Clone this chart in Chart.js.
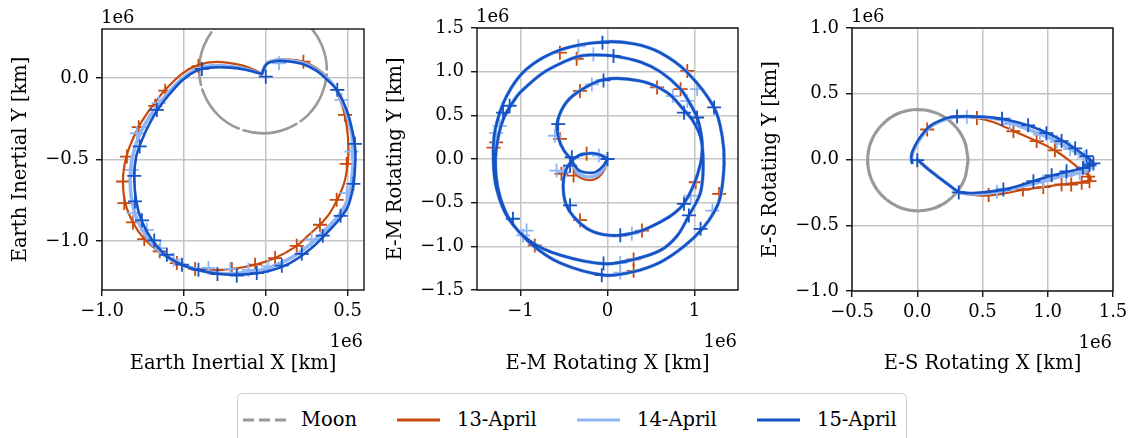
<!DOCTYPE html>
<html><head><meta charset="utf-8">
<script src="https://cdn.jsdelivr.net/npm/chart.js@4.4.1/dist/chart.umd.min.js"></script>
<style>
html,body{margin:0;padding:0;background:#fff;width:1134px;height:438px;overflow:hidden;position:relative;font-family:'DejaVu Serif',serif;}
canvas{position:absolute;top:0;}
#legendBox{position:absolute;left:237px;top:393px;width:670px;height:70px;border:1px solid #cfcfcf;border-radius:5px;box-sizing:border-box;}
.lg{position:absolute;top:408px;height:24px;line-height:24px;font-size:19.5px;color:#000;white-space:nowrap;}
.sw{position:absolute;top:414px;}
</style></head><body>
<canvas id="c1" width="378" height="385" style="left:0px"></canvas>
<canvas id="c2" width="378" height="385" style="left:378px"></canvas>
<canvas id="c3" width="378" height="385" style="left:756px"></canvas>
<div id="legendBox"></div>
<svg class="sw" style="left:243px" width="44" height="12"><line x1="0" y1="6" x2="43" y2="6" stroke="#999999" stroke-width="2.8" stroke-dasharray="11,5"/></svg>
<div class="lg" style="left:301px">Moon</div>
<svg class="sw" style="left:397px" width="44" height="12"><line x1="0" y1="6" x2="43" y2="6" stroke="#c8490c" stroke-width="2.8"/></svg>
<div class="lg" style="left:457px">13-April</div>
<svg class="sw" style="left:577px" width="44" height="12"><line x1="0" y1="6" x2="43" y2="6" stroke="#8fb5f5" stroke-width="2.8"/></svg>
<div class="lg" style="left:637px">14-April</div>
<svg class="sw" style="left:757px" width="44" height="12"><line x1="0" y1="6" x2="43" y2="6" stroke="#1552c4" stroke-width="2.8"/></svg>
<div class="lg" style="left:817px">15-April</div>
<script>
// ---------------- DATA (units of 1e6 km) ----------------
// Panel 1: Earth inertial frame
const inertialMoon = [[-0.017,0.44],[-0.166,0.410],[-0.293,0.326],[-0.377,0.199],[-0.407,0.05],[-0.377,-0.099],[-0.293,-0.226],[-0.166,-0.310],[-0.017,-0.34],[0.132,-0.310],[0.259,-0.226],[0.343,-0.099],[0.373,0.05],[0.343,0.199],[0.259,0.326],[0.132,0.410],[-0.017,0.44]];
const inertial13 = [[-0.024,0.024],[0.006,0.09],[0.07,0.112],[0.15,0.112],[0.23,0.1],[0.31,0.06],[0.38,0.0],[0.425,-0.065],[0.470,-0.18],[0.495,-0.30],[0.505,-0.42],[0.500,-0.53],[0.480,-0.64],[0.440,-0.74],[0.39,-0.83],[0.331,-0.900],[0.26,-0.965],[0.189,-1.029],[0.057,-1.104],[-0.065,-1.145],[-0.207,-1.171],[-0.33,-1.18],[-0.431,-1.171],[-0.543,-1.135],[-0.648,-1.069],[-0.746,-0.982],[-0.811,-0.886],[-0.858,-0.767],[-0.872,-0.635],[-0.862,-0.53],[-0.835,-0.43],[-0.776,-0.300],[-0.72,-0.21],[-0.675,-0.150],[-0.614,-0.073],[-0.512,0.025],[-0.411,0.080],[-0.30,0.098],[-0.157,0.08],[-0.07,0.05],[-0.024,0.024]];
const inertial14 = [[-0.024,0.024],[0.006,0.088],[0.068,0.108],[0.15,0.105],[0.23,0.09],[0.311,0.05],[0.382,-0.01],[0.432,-0.072],[0.485,-0.19],[0.52,-0.315],[0.535,-0.44],[0.532,-0.55],[0.52,-0.66],[0.49,-0.77],[0.44,-0.85],[0.36,-0.935],[0.27,-1.02],[0.16,-1.10],[0.03,-1.16],[-0.10,-1.19],[-0.23,-1.20],[-0.35,-1.19],[-0.45,-1.165],[-0.55,-1.125],[-0.64,-1.07],[-0.72,-0.985],[-0.78,-0.88],[-0.817,-0.76],[-0.828,-0.62],[-0.815,-0.49],[-0.78,-0.37],[-0.73,-0.27],[-0.67,-0.18],[-0.595,-0.09],[-0.51,-0.005],[-0.42,0.055],[-0.33,0.075],[-0.21,0.07],[-0.11,0.052],[-0.024,0.024]];
const inertial15 = [[-0.024,0.024],[0.006,0.086],[0.067,0.104],[0.148,0.100],[0.230,0.084],[0.311,0.043],[0.382,-0.018],[0.437,-0.078],[0.494,-0.196],[0.530,-0.329],[0.547,-0.441],[0.545,-0.55],[0.535,-0.66],[0.505,-0.78],[0.463,-0.849],[0.382,-0.941],[0.280,-1.043],[0.148,-1.135],[0.006,-1.186],[-0.157,-1.206],[-0.299,-1.200],[-0.421,-1.176],[-0.522,-1.141],[-0.614,-1.084],[-0.695,-0.992],[-0.756,-0.880],[-0.791,-0.757],[-0.803,-0.604],[-0.791,-0.482],[-0.756,-0.380],[-0.709,-0.278],[-0.654,-0.186],[-0.583,-0.094],[-0.502,-0.008],[-0.421,0.045],[-0.339,0.063],[-0.217,0.063],[-0.116,0.049],[-0.024,0.024]];
const inertial13Marks = [[-0.411,0.073],[-0.614,-0.078],[-0.675,-0.171],[-0.776,-0.302],[-0.848,-0.482],[-0.872,-0.635],[-0.864,-0.767],[-0.811,-0.886],[-0.742,-0.988],[-0.648,-1.063],[-0.543,-1.135],[-0.431,-1.171],[-0.207,-1.171],[-0.065,-1.145],[0.057,-1.104],[0.189,-1.029],[0.331,-0.900],[0.433,-0.747],[0.494,-0.527],[0.484,-0.227],[0.230,0.100]];
const inertial14Marks = [[0.081,0.09],[0.463,-0.135],[0.524,-0.451],[0.494,-0.706],[0.28,-0.99],[0.016,-1.155],[-0.106,-1.176],[-0.217,-1.171],[-0.35,-1.165],[-0.563,-1.114],[-0.644,-1.043],[-0.726,-0.931],[-0.807,-0.829],[-0.817,-0.563],[-0.787,-0.339],[-0.654,-0.155]];
const inertial15Marks = [[0.0,0.008],[0.437,-0.073],[0.545,-0.404],[0.535,-0.649],[0.457,-0.845],[0.348,-0.967],[0.220,-1.078],[0.098,-1.151],[-0.055,-1.196],[-0.177,-1.212],[-0.295,-1.202],[-0.411,-1.176],[-0.512,-1.145],[-0.604,-1.084],[-0.681,-0.996],[-0.756,-0.873],[-0.799,-0.757],[-0.803,-0.600],[-0.770,-0.420],[-0.665,-0.196],[-0.390,0.055]];
const inertialXTicks = [-1.0,-0.5,0.0,0.5];
const inertialYTicks = [-1.0,-0.5,0.0];

// Panel 2: Earth-Moon rotating frame
const emCommon = [[0,0],[-0.08,0.045],[-0.17,0.065],[-0.25,0.06],[-0.33,0.04],[-0.41,-0.02],[-0.48,-0.13],[-0.51,-0.30],[-0.48,-0.51],[-0.39,-0.66],[-0.23,-0.80],[-0.05,-0.865],[0.147,-0.874],[0.38,-0.825],[0.61,-0.72],[0.77,-0.62],[0.879,-0.51],[0.99,-0.30],[1.07,-0.05],[1.09,0.15],[1.07,0.32],[1.03,0.475],[0.94,0.65],[0.84,0.80],[0.62,0.99],[0.38,1.11],[0.07,1.18],[-0.2,1.19],[-0.35,1.17],[-0.55,1.09],[-0.735,0.99],[-0.92,0.84],[-1.04,0.72],[-1.20,0.45],[-1.28,0.1],[-1.28,-0.2],[-1.23,-0.45],[-1.12,-0.70],[-0.88,-0.97],[-0.547,-1.19],[-0.04,-1.33],[0.30,-1.29],[0.61,-1.18],[0.88,-1.0],[1.09,-0.80],[1.23,-0.60],[1.30,-0.42],[1.34,-0.05],[1.32,0.25],[1.225,0.59],[0.918,0.99],[0.6,1.22],[0.3,1.32],[-0.06,1.34],[-0.54,1.25],[-0.93,1.03],[-1.16,0.72],[-1.29,0.34],[-1.313,0.0],[-1.275,-0.34],[-1.14,-0.68],[-0.89,-0.94],[-0.547,-1.10],[-0.04,-1.20],[0.30,-1.15],[0.61,-1.045],[0.80,-0.88],[0.936,-0.646],[1.07,-0.38],[1.10,-0.05],[1.07,0.25],[0.98,0.44],[0.88,0.56],[0.687,0.76],[0.378,0.893],[-0.04,0.91],[-0.35,0.76],[-0.50,0.61],[-0.58,0.40],[-0.56,0.23],[-0.50,0.095],[-0.43,0.01]];
const em13Return = [[-0.36,-0.17],[-0.26,-0.235],[-0.14,-0.23],[-0.04,-0.13],[0,0]];
const em14Return = [[-0.35,-0.15],[-0.26,-0.20],[-0.14,-0.195],[-0.05,-0.115],[0,0]];
const em15Return = [[-0.34,-0.12],[-0.25,-0.155],[-0.14,-0.15],[-0.05,-0.08],[0,0]];
const em13Marks = [[-0.547,1.217],[-0.355,1.148],[-0.316,0.78],[0.57,0.82],[0.84,0.80],[0.917,1.008],[-1.28,0.19],[-1.31,0.13],[-0.547,0.23],[-0.24,0.06],[-0.53,-0.17],[-0.39,-0.19],[1.014,-0.266],[1.283,-0.40],[-0.316,-0.70],[-0.836,-0.99],[0.397,-0.82],[0.30,-1.15],[0.30,-1.28]];
const em14Marks = [[-0.335,1.29],[-0.162,1.20],[-0.18,0.855],[1.03,0.80],[0.917,0.665],[0.75,0.72],[-1.24,0.38],[-1.28,0.30],[-0.605,0.266],[-0.586,-0.133],[-0.50,-0.15],[0.956,-0.42],[1.206,-0.59],[-0.97,-0.875],[-0.93,-0.82],[0.28,-0.855],[0.146,-1.30],[0.146,-1.19],[-0.10,0.04]];
const em15Marks = [[-0.058,1.33],[0.069,1.18],[-0.046,0.90],[1.225,0.59],[0.88,0.53],[1.03,0.475],[-1.125,0.61],[-1.20,0.53],[-0.566,0.40],[-0.41,0.02],[0,0],[-0.43,-0.076],[0.879,-0.513],[0.936,-0.646],[1.07,-0.80],[-0.43,-0.53],[-1.087,-0.684],[0.147,-0.874],[-0.046,-1.197],[-0.066,-1.33]];
const emXTicks = [-1,0,1];
const emYTicks = [-1.5,-1.0,-0.5,0.0,0.5,1.0,1.5];

// Panel 3: Earth-Sun rotating frame
const esMoon = [[0.39,-0.005],[0.361,0.142],[0.277,0.267],[0.152,0.351],[0.005,0.38],[-0.142,0.351],[-0.267,0.267],[-0.351,0.142],[-0.38,-0.005],[-0.351,-0.152],[-0.267,-0.277],[-0.142,-0.361],[0.005,-0.39],[0.152,-0.361],[0.277,-0.277],[0.361,-0.152],[0.39,-0.005]];
const es13 = [[0,0],[0.08,-0.07],[0.17,-0.14],[0.25,-0.20],[0.318,-0.25],[0.40,-0.265],[0.51,-0.275],[0.65,-0.262],[0.81,-0.23],[0.966,-0.21],[1.106,-0.19],[1.22,-0.178],[1.30,-0.165],[1.33,-0.15],[1.31,-0.12],[1.25,-0.075],[1.18,-0.02],[1.10,0.04],[1.0,0.10],[0.915,0.14],[0.80,0.19],[0.70,0.235],[0.58,0.285],[0.457,0.316],[0.35,0.325],[0.25,0.318],[0.16,0.285],[0.076,0.228],[0.02,0.15],[-0.02,0.08],[-0.04,0.02],[-0.04,-0.025]];
const es14 = [[0,0],[0.08,-0.07],[0.17,-0.14],[0.25,-0.20],[0.318,-0.247],[0.40,-0.26],[0.52,-0.258],[0.65,-0.24],[0.80,-0.205],[0.966,-0.165],[1.10,-0.13],[1.20,-0.11],[1.28,-0.09],[1.33,-0.06],[1.32,-0.02],[1.28,0.015],[1.20,0.065],[1.10,0.12],[1.0,0.17],[0.90,0.21],[0.78,0.255],[0.65,0.30],[0.52,0.322],[0.38,0.326],[0.28,0.322],[0.20,0.30],[0.10,0.25],[0.03,0.17],[-0.02,0.09],[-0.045,0.025],[-0.04,-0.025]];
const es15 = [[0,0],[0.08,-0.07],[0.17,-0.14],[0.25,-0.20],[0.318,-0.245],[0.40,-0.255],[0.52,-0.248],[0.636,-0.233],[0.76,-0.205],[0.89,-0.165],[1.02,-0.125],[1.144,-0.095],[1.25,-0.07],[1.32,-0.05],[1.35,-0.03],[1.33,-0.005],[1.27,0.04],[1.20,0.09],[1.12,0.14],[1.0,0.20],[0.89,0.245],[0.76,0.285],[0.636,0.312],[0.50,0.325],[0.38,0.328],[0.28,0.325],[0.21,0.31],[0.10,0.256],[0.03,0.18],[-0.02,0.10],[-0.045,0.03],[-0.04,-0.025]];
const es13Marks = [[0.076,0.228],[0.457,0.316],[0.737,0.215],[0.915,0.14],[1.055,0.07],[1.32,-0.165],[1.26,-0.177],[1.18,-0.19],[1.106,-0.19],[0.966,-0.21],[0.81,-0.228],[0.547,-0.27],[1.31,-0.13]];
const es14Marks = [[0.38,0.326],[0.71,0.27],[0.94,0.19],[1.07,0.135],[1.17,0.08],[1.28,0.015],[1.32,-0.05],[1.245,-0.10],[1.14,-0.127],[0.966,-0.165],[0.61,-0.245]];
const es15Marks = [[0,-0.005],[0.318,-0.25],[0.66,-0.228],[0.89,-0.165],[1.03,-0.12],[1.144,-0.09],[1.27,-0.065],[1.32,-0.04],[1.35,-0.03],[1.297,0.025],[1.21,0.085],[1.106,0.14],[0.99,0.2],[0.85,0.26],[0.65,0.31],[0.305,0.327]];
const esXTicks = [-0.5,0.0,0.5,1.0,1.5];
const esYTicks = [-1.0,-0.5,0.0,0.5,1.0];

// ---------------- STYLE ----------------
const C13 = '#c8490c', C14 = '#8fb5f5', C15 = '#1552c4', CMOON = '#999999';
const FONT = 'DejaVu Serif';

function pts(a){ return a.map(p => ({x:p[0], y:p[1]})); }
function lineDs(a, color, width, order, dash){
  return {data:pts(a), showLine:true, borderColor:color, backgroundColor:color, borderWidth:width,
    pointRadius:0, pointHoverRadius:0, tension:0.35, fill:false, order:order, borderDash:dash||[],
    borderCapStyle:'round', borderJoinStyle:'round'};
}
function markDs(a, color, order){
  return {data:pts(a), showLine:false, pointStyle:'cross', pointRadius:7, pointHoverRadius:7,
    borderWidth:1.8, pointBorderWidth:1.8, borderColor:color, pointBorderColor:color, backgroundColor:color, order:order};
}
function fmt(v, d){ const s = Math.abs(v).toFixed(d); return (v < -1e-9 ? '\u2212' : '') + s; }

const framePlugin = {
  id:'frame',
  afterDraw(chart, args, opts){
    const {ctx, chartArea:a} = chart;
    ctx.save();
    ctx.strokeStyle = '#000'; ctx.lineWidth = 1.3;
    ctx.strokeRect(a.left, a.top, a.right - a.left, a.bottom - a.top);
    ctx.fillStyle = '#000';
    ctx.font = '18px "' + FONT + '"';
    ctx.textBaseline = 'alphabetic';
    ctx.textAlign = 'left';
    ctx.fillText('1e6', a.left - 1, a.top - 6);
    ctx.textAlign = 'right';
    ctx.fillText('1e6', a.right - 1, a.bottom + 57);
    ctx.restore();
  }
};

function makePanel(id, P){
  const tickFont = {family:FONT, size:18};
  const titleFont = {family:FONT, size:19.5};
  const grid = {color:'#c4c4c4', lineWidth:1.5, drawTicks:true, tickLength:6, tickColor:'#000', tickWidth:1.3};
  new Chart(document.getElementById(id), {
    type:'scatter',
    data:{datasets:P.datasets},
    plugins:[framePlugin],
    options:{
      responsive:false, animation:false, events:[],
      layout:{autoPadding:false, padding:{left:0, top:P.L.top, right:P.L.right, bottom:0}},
      plugins:{legend:{display:false}, tooltip:{enabled:false}, frame:{}},
      scales:{
        x:{type:'linear', position:'bottom', min:P.xr[0], max:P.xr[1],
          afterBuildTicks:s => { s.ticks = P.xt.map(v => ({value:v})); },
          afterFit:s => { s.height = P.L.xh; },
          grid:grid, border:{display:false},
          ticks:{color:'#000', font:tickFont, padding:5, maxRotation:0, autoSkip:false, callback:v => fmt(v, P.xd)},
          title:{display:true, text:P.xl, color:'#000', font:titleFont, padding:{top:0, bottom:P.L.xtp}}},
        y:{type:'linear', position:'left', min:P.yr[0], max:P.yr[1],
          afterBuildTicks:s => { s.ticks = P.yt.map(v => ({value:v})); },
          afterFit:s => { s.width = P.L.yw; },
          grid:grid, border:{display:false},
          ticks:{color:'#000', font:tickFont, padding:7, autoSkip:false, callback:v => fmt(v, P.yd)},
          title:{display:true, text:P.yl, color:'#000', font:titleFont, padding:{top:P.L.ytp, bottom:0}}}
      }
    }
  });
}

function seriesSet(moon, moonDash, moonW, s13, s14, s15, m13, m14, m15){
  const ds = [];
  if (moon) ds.push(lineDs(moon, CMOON, moonW, 20, moonDash));
  ds.push(lineDs(s13, C13, 2.2, 19));
  ds.push(markDs(m13, C13, 18));
  ds.push(lineDs(s14, C14, 3.6, 17));
  ds.push(markDs(m14, C14, 16));
  ds.push(lineDs(s15, C15, 2.6, 15));
  ds.push(markDs(m15, C15, 14));
  return ds;
}

makePanel('c1', {
  datasets: seriesSet(inertialMoon, [55,5], 2.6, inertial13, inertial14, inertial15, inertial13Marks, inertial14Marks, inertial15Marks),
  xr:[-1.0,0.6], yr:[-1.3,0.3], xt:inertialXTicks, yt:inertialYTicks, xd:1, yd:1,
  xl:'Earth Inertial X [km]', yl:'Earth Inertial Y [km]',
  L:{top:29, right:14, xh:95, yw:102, xtp:9, ytp:9}
});
makePanel('c2', {
  datasets: seriesSet(null, null, 0, emCommon.concat(em13Return), emCommon.concat(em14Return), emCommon.concat(em15Return), em13Marks, em14Marks, em15Marks),
  xr:[-1.5,1.5], yr:[-1.5,1.5], xt:emXTicks, yt:emYTicks, xd:0, yd:1,
  xl:'E-M Rotating X [km]', yl:'E-M Rotating Y [km]',
  L:{top:28, right:18, xh:95, yw:99, xtp:9, ytp:6}
});
makePanel('c3', {
  datasets: seriesSet(esMoon, [10,2], 3.2, es13, es14, es15, es13Marks, es14Marks, es15Marks),
  xr:[-0.5,1.5], yr:[-1.0,1.0], xt:esXTicks, yt:esYTicks, xd:1, yd:1,
  xl:'E-S Rotating X [km]', yl:'E-S Rotating Y [km]',
  L:{top:28, right:21, xh:94, yw:96, xtp:9, ytp:3}
});
</script>
</body></html>
